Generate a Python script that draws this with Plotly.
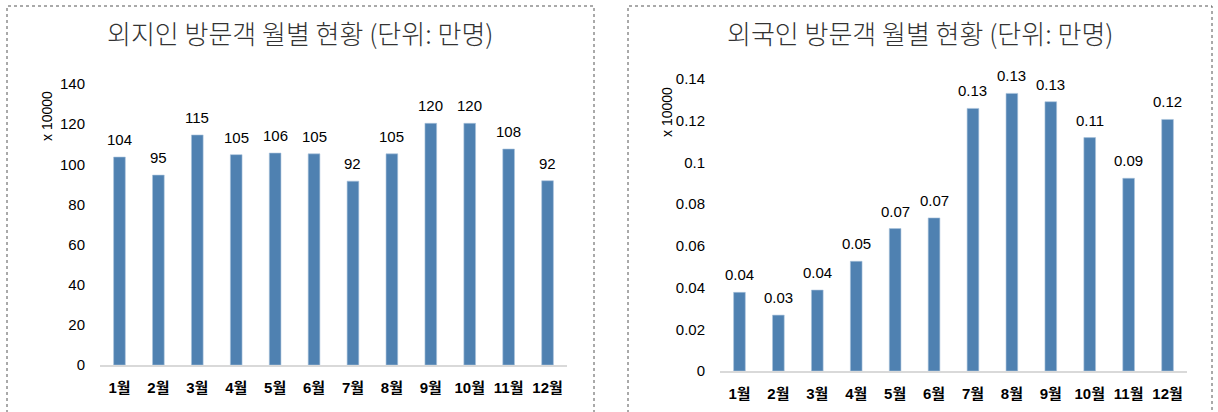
import plotly.graph_objects as go

W, H = 1218, 412

months = ["1월", "2월", "3월", "4월", "5월", "6월", "7월", "8월", "9월", "10월", "11월", "12월"]
local_visitors = [103.6, 94.6, 114.6, 104.8, 105.6, 105.2, 91.6, 105.2, 120.4, 120.4, 107.6, 91.8]
foreign_visitors = [0.0377, 0.0268, 0.0388, 0.0526, 0.0683, 0.0734, 0.1259, 0.1331, 0.1291, 0.1119, 0.0924, 0.1206]

left_tickvals = [0, 20, 40, 60, 80, 100, 120, 140]
left_ticktext = ["0", "20", "40", "60", "80", "100", "120", "140"]
right_tickvals = [0, 0.02, 0.04, 0.06, 0.08, 0.1, 0.12, 0.14]
right_ticktext = ["0", "0.02", "0.04", "0.06", "0.08", "0.1", "0.12", "0.14"]

title_left = "외지인 방문객 월별 현황 (단위: 만명)"
title_right = "외국인 방문객 월별 현황 (단위: 만명)"
unit_label = "x 10000"

BAR = "#4f81b1"
FONT = "Liberation Sans, Arial, Noto Sans CJK KR"
KFONT = "Noto Sans CJK KR"


def px(x):
    return x / W


def py(y):
    return 1 - y / H


fig = go.Figure()
fig.add_trace(go.Bar(x=months, y=local_visitors, xaxis="x", yaxis="y",
                     marker=dict(color=BAR, line=dict(color="#a9c2dc", width=0.6)),
                     hoverinfo="x+y"))
fig.add_trace(go.Bar(x=months, y=foreign_visitors, xaxis="x2", yaxis="y2",
                     marker=dict(color=BAR, line=dict(color="#a9c2dc", width=0.6)),
                     hoverinfo="x+y"))

annotations = []
for m, v in zip(months, local_visitors):
    annotations.append(dict(x=m, y=v, xref="x", yref="y", text=f"{v:.0f}", showarrow=False,
                            yanchor="bottom", yshift=7,
                            font=dict(family=FONT, size=15, color="#000")))
for m, v in zip(months, foreign_visitors):
    annotations.append(dict(x=m, y=v, xref="x2", yref="y2", text=f"{v:.2f}", showarrow=False,
                            yanchor="bottom", yshift=7,
                            font=dict(family=FONT, size=15, color="#000")))

annotations.append(dict(x=px(300), y=py(33), xref="paper", yref="paper", text=title_left,
                        showarrow=False, xanchor="center", yanchor="middle",
                        font=dict(family=KFONT, size=26, color="#333", weight=300)))
annotations.append(dict(x=px(920), y=py(33), xref="paper", yref="paper", text=title_right,
                        showarrow=False, xanchor="center", yanchor="middle",
                        font=dict(family=KFONT, size=26, color="#333", weight=300)))
annotations.append(dict(x=px(47), y=py(116), xref="paper", yref="paper", text=unit_label,
                        showarrow=False, textangle=-90, xanchor="center", yanchor="middle",
                        font=dict(family=FONT, size=14, color="#000")))
annotations.append(dict(x=px(667), y=py(112), xref="paper", yref="paper", text=unit_label,
                        showarrow=False, textangle=-90, xanchor="center", yanchor="middle",
                        font=dict(family=FONT, size=14, color="#000")))

shapes = [
    dict(type="rect", xref="paper", yref="paper", x0=px(7), x1=px(594), y0=py(420), y1=py(6),
         line=dict(color="#555", width=1, dash="dot")),
    dict(type="rect", xref="paper", yref="paper", x0=px(628), x1=px(1212), y0=py(420), y1=py(6),
         line=dict(color="#555", width=1, dash="dot")),
]

xaxis_common = dict(type="category", showgrid=False, showline=True, linecolor="#d9d9d9",
                    linewidth=2, ticks="", ticklabelstandoff=8, automargin=False,
                    tickfont=dict(family=FONT, size=15, color="#000", weight="bold"),
                    fixedrange=True)
yaxis_common = dict(showgrid=False, showline=False, zeroline=False, ticks="",
                    ticklabelstandoff=14, automargin=False,
                    tickfont=dict(family=FONT, size=15, color="#000"), fixedrange=True)

fig.update_layout(
    width=W, height=H,
    margin=dict(l=0, r=0, t=0, b=0),
    paper_bgcolor="white", plot_bgcolor="white",
    showlegend=False, bargap=0.7,
    xaxis=dict(domain=[px(100), px(567)], anchor="y", **xaxis_common),
    yaxis=dict(domain=[py(365), py(84)], anchor="x", range=[0, 140],
               tickvals=left_tickvals, ticktext=left_ticktext, **yaxis_common),
    xaxis2=dict(domain=[px(720), px(1187)], anchor="y2", **xaxis_common),
    yaxis2=dict(domain=[py(371), py(79)], anchor="x2", range=[0, 0.14],
                tickvals=right_tickvals, ticktext=right_ticktext, **yaxis_common),
    annotations=annotations,
    shapes=shapes,
)

fig.write_html("out.html", config={"displayModeBar": False},
               post_script="document.body.style.margin='0px';document.body.style.padding='0px';")
